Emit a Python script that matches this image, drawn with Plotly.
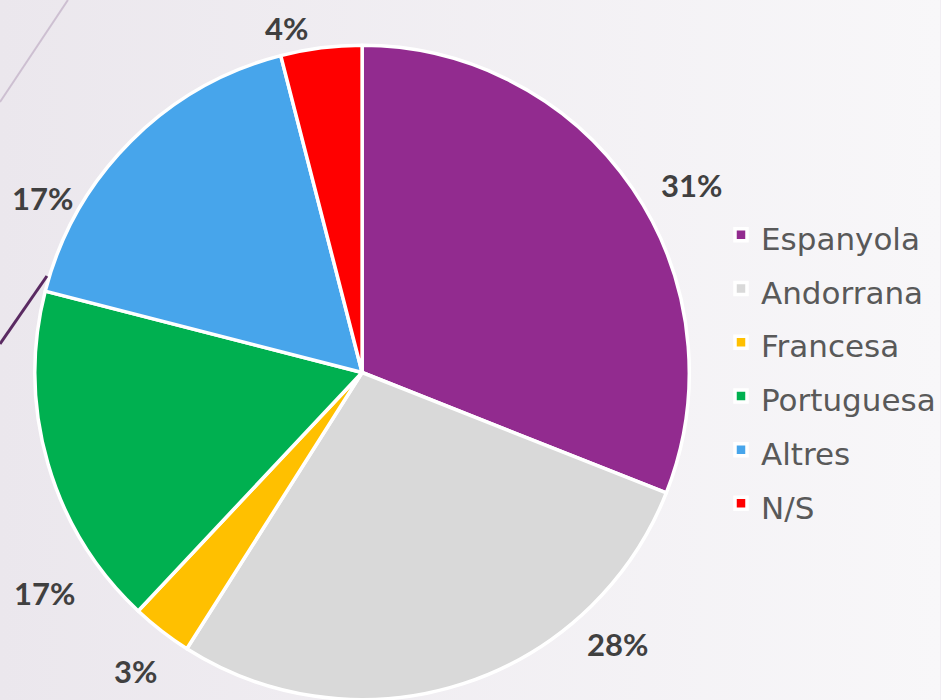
import math
import plotly.graph_objects as go

# Nationality of respondents (%)
nationality = ['Espanyola', 'Andorrana', 'Francesa', 'Portuguesa', 'Altres', 'N/S']
share = [31, 28, 3, 17, 17, 4]
colors = ['#922B8F', '#D9D9D9', '#FFC000', '#00B050', '#47A5EB', '#FF0000']

# Excel "best fit" style label placement:
# shift from the slice middle (degrees) and distance from the pie centre (px)
label_shift = [-4.6, 25.3, 0.6, 18.6, 16.4, 5.2]
label_dist = [379, 373, 375, 387, 364, 353]

W, H = 941, 700
cx, cy, R = 362.5, 372.5, 327.5

fig = go.Figure()

# soft background gradient (slide theme)
fig.add_trace(go.Scatter(
    x=[0, 1, 1, 0, 0], y=[0, 0, 1, 1, 0],
    mode='none', fill='toself',
    fillgradient=dict(type='horizontal',
                      colorscale=[[0, '#EBE7ED'], [1, '#F8F7F9']]),
    hoverinfo='skip', showlegend=False,
))

# bigger legend line height, normal sized text
legend_labels = ['<span style="font-size:31px">%s</span>' % n for n in nationality]

fig.add_trace(go.Pie(
    labels=legend_labels,
    values=share,
    sort=False,
    direction='clockwise',
    rotation=0,
    marker=dict(colors=colors, line=dict(color='white', width=3.5)),
    textinfo='none',
    hoverinfo='label+percent',
    domain=dict(x=[(cx - R) / W, (cx + R) / W], y=[0, 2 * R / H]),
))

# percentage labels around the pie
annotations = []
start = 90.0
total = sum(share)
for v, shift, dist in zip(share, label_shift, label_dist):
    sweep = v / total * 360
    ang = math.radians(start - sweep / 2 + shift)
    start -= sweep
    px = cx + dist * math.cos(ang)
    py = cy - dist * math.sin(ang)
    annotations.append(dict(
        x=px / W, y=1 - py / H, xref='paper', yref='paper',
        text='%d%%' % round(v / total * 100), showarrow=False,
        xanchor='center', yanchor='middle',
        font=dict(family='Lato', size=31, color='#404040', weight='bold'),
    ))

# theme decoration lines
shapes = [
    dict(type='line', xref='paper', yref='paper',
         x0=0, y0=1 - 102 / H, x1=68 / W, y1=1,
         line=dict(color='#CDBFD1', width=2), layer='above'),
    dict(type='line', xref='paper', yref='paper',
         x0=0, y0=1 - 344 / H, x1=47 / W, y1=1 - 276 / H,
         line=dict(color='#5A2A62', width=3), layer='above'),
]

fig.update_layout(
    width=W, height=H,
    margin=dict(l=0, r=0, t=0, b=0),
    paper_bgcolor='#F1EEF3',
    plot_bgcolor='rgba(0,0,0,0)',
    xaxis=dict(range=[0, 1], visible=False, fixedrange=True),
    yaxis=dict(range=[0, 1], visible=False, fixedrange=True),
    showlegend=True,
    legend=dict(
        x=722 / W, y=1 - 203 / H, xanchor='left', yanchor='top',
        font=dict(family='DejaVu Sans', size=39, color='#595959'),
        bgcolor='rgba(0,0,0,0)',
    ),
    annotations=annotations,
    shapes=shapes,
)

# page has a default 8px body margin; drop it so the figure sits at 0,0
fig.write_html("out.html", config={'displayModeBar': False},
               post_script="document.body.style.margin='0';")
